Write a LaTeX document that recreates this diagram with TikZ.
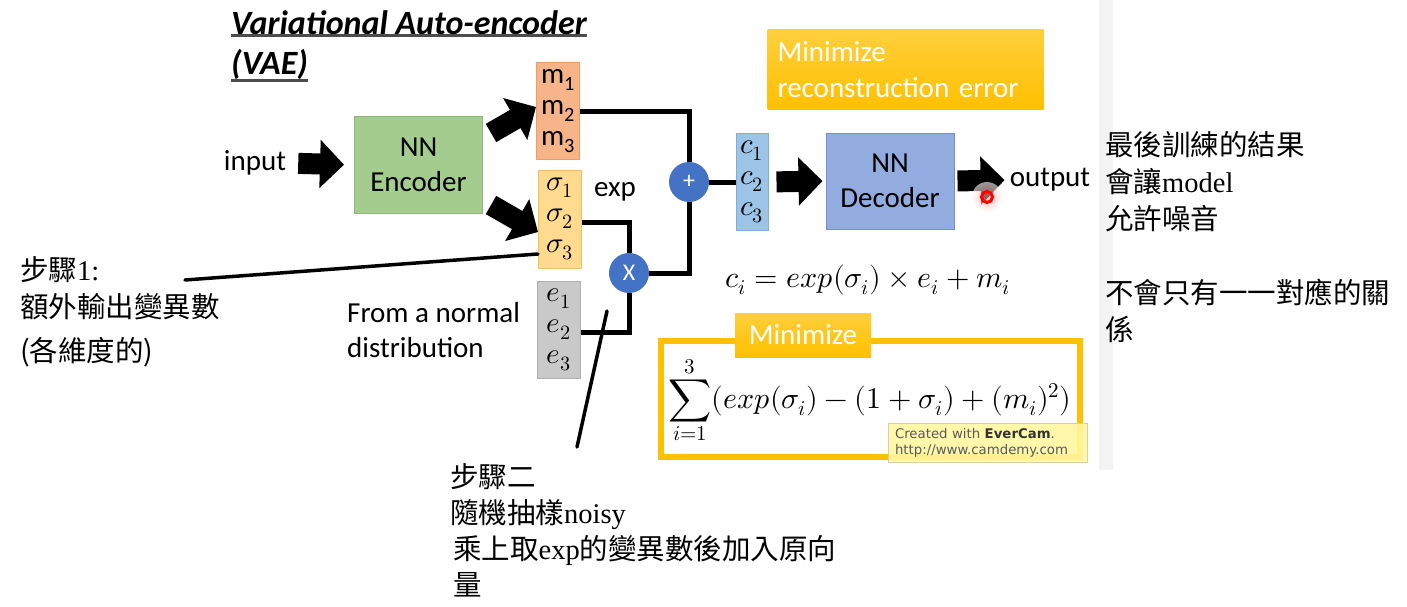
\documentclass[tikz,border=0pt]{standalone}
\usepackage{fontspec}
\usepackage{unicode-math}
\setmainfont{Carlito}
\setmathfont{Latin Modern Math}
\newfontfamily\cjk{Noto Sans CJK TC}
\newfontfamily\tnr{Liberation Serif}
\newfontfamily\wmfont{DejaVu Sans}
\usetikzlibrary{arrows.meta}

\definecolor{encgreen}{HTML}{A4CC8E}
\definecolor{encedge}{HTML}{8DB878}
\definecolor{decblue}{HTML}{93ACE0}
\definecolor{decedge}{HTML}{6F8FD0}
\definecolor{msalmon}{HTML}{F6B488}
\definecolor{medge}{HTML}{EE9C68}
\definecolor{sigyellow}{HTML}{FFDA8F}
\definecolor{sigedge}{HTML}{F3C065}
\definecolor{egray}{HTML}{C9C9C9}
\definecolor{eedge}{HTML}{B0B0B0}
\definecolor{cblue}{HTML}{9DC3E6}
\definecolor{cedge}{HTML}{7FAEDB}
\definecolor{opblue}{HTML}{4472C4}
\definecolor{minorange}{HTML}{FFC000}
\definecolor{minlight}{HTML}{FFCF3C}
\definecolor{stripgray}{HTML}{F3F3F3}
\definecolor{wmyellow}{HTML}{FFF6A0}
\definecolor{wmedge}{HTML}{D8D0A0}
\definecolor{wmgray}{HTML}{5A5A5A}

\tikzset{
  lbl/.style={font=\fontsize{29}{35}\selectfont, inner sep=0pt},
  vecbox/.style={draw, line width=1pt, minimum width=43pt, minimum height=97pt,
    inner sep=0pt, align=center, font=\fontsize{29}{31}\selectfont},
  nnbox/.style={draw, line width=1pt, minimum width=128pt, minimum height=96pt,
    align=center, font=\fontsize{29}{35}\selectfont},
  fatarrow/.style={line width=21pt, -{Triangle[length=24pt,width=47pt]}},
  wire/.style={line width=5pt},
  op/.style={circle, fill=opblue, minimum size=40pt, inner sep=0pt, text=white,
    font=\fontsize{24}{24}\selectfont},
  minbox/.style={top color=minlight, bottom color=minorange, text=white,
    font=\fontsize{29}{36}\selectfont},
  note/.style={font=\cjk\fontsize{28.5}{37}\selectfont, align=left,
    anchor=north west, inner sep=0pt},
  pointer/.style={line width=3.5pt, line cap=round},
  uline/.style={line width=2.5pt, black!70},
}

\begin{document}
\begin{tikzpicture}[x=1pt, y=-1pt]
  \useasboundingbox (0,0) rectangle (1407,607);
  \fill[stripgray] (1099,0) rectangle (1113,470);

  % title
  \node[lbl, anchor=base west, font=\fontsize{34}{38}\selectfont\bfseries\itshape] (title1) at (231,35) {Variational Auto-encoder};
  \node[lbl, anchor=base west, font=\fontsize{34}{38}\selectfont\bfseries\itshape] (title2) at (231,75) {(VAE)};
  \draw[uline] (title1.south west) -- (title1.south east);
  \draw[uline] (title2.south west) -- (title2.south east);

  % encoder side
  \node[lbl] (input) at (255,163) {input};
  \node[nnbox, fill=encgreen, draw=encedge] (enc) at (418.5,165) {NN\\Encoder};
  \node[vecbox, fill=msalmon, draw=medge] (m) at (558,111) {m\textsubscript{1}\\m\textsubscript{2}\\m\textsubscript{3}};
  \node[vecbox, fill=sigyellow, draw=sigedge, minimum height=98pt] (sig) at (560,219) {$\sigma_1$\\$\sigma_2$\\$\sigma_3$};
  \node[vecbox, fill=egray, draw=eedge] (evec) at (559,329.5) {$e_1$\\$e_2$\\$e_3$};
  \node[lbl] (exp) at (615,192) {exp};
  \node[lbl, anchor=west, align=left] (normal) at (347,330) {From a normal\\distribution};

  \draw[fatarrow, shorten <=12pt, shorten >=10pt] (input.east) -- (enc.west);
  \draw[fatarrow] ([shift={(8,-32)}]enc.east) -- ([yshift=4pt]m.west);
  \draw[fatarrow] ([shift={(8,40)}]enc.east) -- ([yshift=-13pt]sig.west);

  % decoder side
  \node[vecbox, fill=cblue, draw=cedge, minimum width=32pt] (cvec) at (752,182) {$c_1$\\$c_2$\\$c_3$};
  \node[nnbox, fill=decblue, draw=decedge] (dec) at (890,181) {NN\\Decoder};
  \node[lbl] (output) at (1050,180) {output};
  \draw[fatarrow, shorten <=8pt, shorten >=3pt] (cvec.east) -- (dec.west);
  \draw[fatarrow, shorten <=3pt, shorten >=5pt] (dec.east) -- (output.west);
  \shade[inner color=red!45, outer color=white, opacity=0.6] (987,197) circle (15pt);
  \node[circle, draw=red, line width=3pt, minimum size=11pt, inner sep=0pt] (cursor) at (987,197) {};

  % sampling
  \node[op] (plus) at (689,182) {+};
  \node[op] (times) at (629,273) {X};
  \draw[wire] ([yshift=-1pt]m.east) -| (plus);
  \draw[wire] ([yshift=-3pt]sig.east) -| (times);
  \draw[wire] ([yshift=-3pt]evec.east) -| (times);
  \draw[wire] (times) -| (plus);
  \draw[wire] (plus) -- (cvec.west);

  \node[minbox, minimum width=276pt, minimum height=80pt, text width=256pt, align=left] (recon) at (905.5,70) {Minimize\\reconstruction error};

  % formulas
  \node[lbl, font=\fontsize{30}{35}\selectfont] (cform) at (868,280) {$c_i = exp(\sigma_i)\times e_i + m_i$};
  \node[draw=minorange, line width=6pt, minimum width=419pt, minimum height=116pt] (klbox) at (870.5,399) {};
  \node[lbl, font=\fontsize{30}{35}\selectfont] (klform) at (870,400) {$\displaystyle\sum_{i=1}^{3}(exp(\sigma_i) - (1+\sigma_i) + (m_i)^2)$};
  \node[minbox, minimum width=136pt, minimum height=44pt] (mintab) at (803,335) {Minimize};
  \node[fill=wmyellow, draw=wmedge, fill opacity=0.9, text opacity=1, text=wmgray,
    align=left, text width=185pt, font=\wmfont\fontsize{13.3}{16}\selectfont,
    minimum width=199pt, minimum height=39pt, inner sep=0pt] (evercam) at (987.5,443)
    {Created with \textbf{\color{black!80}EverCam}.\\http://www.camdemy.com};

  % notes
  \node[note] (step1) at (20,256) {步驟{\tnr 1:}\\額外輸出變異數\\[7pt](各維度的)};
  \coordinate (s1end) at (185,280);
  \draw[pointer] (s1end) -- ([yshift=-35pt]sig.west);

  \node[note, font=\cjk\fontsize{28.5}{36}\selectfont] (step2) at (450,463) {步驟二\\隨機抽樣{\tnr noisy}\\\hspace*{3pt}乘上取{\tnr exp}的變異數後加入原向\\\hspace*{3pt}量};
  \coordinate (s2top) at (607,311);
  \coordinate (s2end) at (577,447);
  \draw[pointer] (s2top) -- (s2end);

  \node[note] (result) at (1105,131) {最後訓練的結果\\會讓{\tnr model}\\允許噪音\\[37pt]不會只有一一對應的關\\係};
\end{tikzpicture}
\end{document}
